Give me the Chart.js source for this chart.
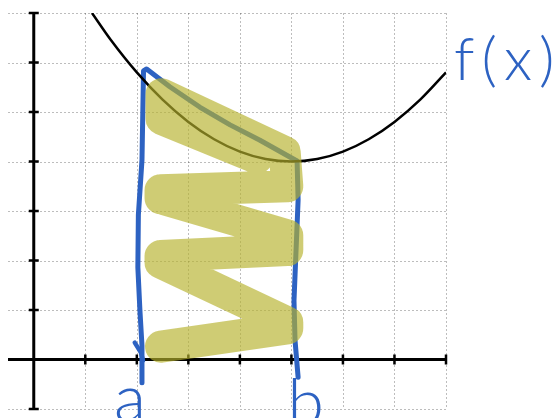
<!DOCTYPE html>
<html>
<head>
<meta charset="utf-8">
<script src="https://cdn.jsdelivr.net/npm/chart.js@4.4.1/dist/chart.umd.min.js"></script>
<style>
  html, body { margin: 0; padding: 0; background: #fff; }
  #wrap { width: 560px; height: 418px; }
</style>
</head>
<body>
<div id="wrap"><canvas id="riemann" width="560" height="418"></canvas></div>
<script>
// f(x) 곡선 (그림에서 읽은 점)
const curveX = [1.13, 1.5, 2, 2.5, 3, 3.5, 4, 4.5, 5, 5.5, 6, 6.5, 7, 7.5, 8];
const curveY = [7.0, 6.45, 5.8, 5.25, 4.8, 4.45, 4.2, 4.05, 4.0, 4.05, 4.2, 4.45, 4.8, 5.25, 5.8];

// a~b 구간을 둘러싼 손그림 테두리
const outlineX = [2.10, 2.10, 2.06, 2.02, 2.03, 2.10, 2.13, 2.19, 2.64, 3.22, 3.81, 4.39, 4.97, 5.11, 5.13, 5.09, 5.05, 5.07, 5.13];
const outlineY = [-0.47, 0.28, 0.99, 1.86, 2.92, 4.03, 5.83, 5.87, 5.51, 5.10, 4.74, 4.43, 4.09, 4.01, 3.22, 2.21, 1.19, 0.39, -0.36];

// 왼쪽 아래 작은 꺾임
const hookX = [1.96, 2.08, 2.12];
const hookY = [0.34, 0.14, -0.02];

// 노란 지그재그 칠
const shadeX = [4.33, 2.48, 2.48, 4.87, 4.92, 2.46, 2.46, 4.92, 4.92, 2.46, 2.46, 4.92, 4.92, 2.47];
const shadeY = [4.07, 4.86, 5.36, 4.19, 3.50, 3.42, 3.26, 2.51, 2.21, 2.09, 1.96, 0.75, 0.63, 0.26];

// 격자, 눈금
const gridX = [0, 1, 2, 3, 4, 5, 6, 7, 8];
const gridY = [-1, 0, 1, 2, 3, 4, 5, 6, 7];
const tickX = [1, 2, 3, 4, 5, 6, 7, 8];
const tickY = [-1, 1, 2, 3, 4, 5, 6, 7];

// 구간 끝점과 글자
const aX = 2.1;
const bX = 5.1;
const labelA = "a";
const labelB = "b";
const labelF = "f(x)";

const BLUE = "#2d62c2";

function pts(xs, ys) {
  return xs.map((x, i) => ({ x: x, y: ys[i] }));
}

// 격자와 축은 데이터보다 먼저 그림
const gridAxes = {
  id: "gridAxes",
  beforeDatasetsDraw(chart) {
    const ctx = chart.ctx;
    const xs = chart.scales.x;
    const ys = chart.scales.y;
    const area = chart.chartArea;
    ctx.save();
    ctx.strokeStyle = "rgba(0,0,0,0.26)";
    ctx.lineWidth = 1;
    ctx.setLineDash([2, 2]);
    gridX.forEach((v) => {
      const px = Math.round(xs.getPixelForValue(v)) + 0.5;
      ctx.beginPath();
      ctx.moveTo(px, area.top);
      ctx.lineTo(px, area.bottom);
      ctx.stroke();
    });
    gridY.forEach((v) => {
      const py = Math.round(ys.getPixelForValue(v)) + 0.5;
      ctx.beginPath();
      ctx.moveTo(area.left, py);
      ctx.lineTo(area.right, py);
      ctx.stroke();
    });
    ctx.setLineDash([]);

    // 축
    const x0 = xs.getPixelForValue(0);
    const y0 = ys.getPixelForValue(0);
    ctx.strokeStyle = "#000";
    ctx.lineWidth = 3;
    ctx.beginPath();
    ctx.moveTo(x0, ys.getPixelForValue(-1));
    ctx.lineTo(x0, ys.getPixelForValue(7));
    ctx.moveTo(xs.getPixelForValue(-0.5), y0);
    ctx.lineTo(xs.getPixelForValue(8), y0);
    ctx.stroke();

    // 눈금
    ctx.lineWidth = 2.5;
    ctx.beginPath();
    tickY.forEach((v) => {
      const py = ys.getPixelForValue(v);
      ctx.moveTo(x0 - 5, py);
      ctx.lineTo(x0 + 5, py);
    });
    tickX.forEach((v) => {
      const px = xs.getPixelForValue(v);
      ctx.moveTo(px, y0 - 5);
      ctx.lineTo(px, y0 + 5);
    });
    ctx.stroke();
    ctx.restore();
  },
  afterDraw(chart) {
    const ctx = chart.ctx;
    const xs = chart.scales.x;
    ctx.save();
    ctx.fillStyle = BLUE;
    ctx.textBaseline = "alphabetic";
    ctx.font = "300 66px Lato";
    ctx.textAlign = "center";
    ctx.fillText(labelA, xs.getPixelForValue(aX) - 12, 421);
    ctx.textAlign = "left";
    ctx.fillText(labelB, xs.getPixelForValue(bX) - 9, 425);
    ctx.font = "300 60px Lato";
    ctx.letterSpacing = "7px";
    ctx.fillText(labelF, 454, 80);
    ctx.restore();
  },
};

new Chart(document.getElementById("riemann").getContext("2d"), {
  type: "line",
  data: {
    datasets: [
      {
        // 노란 칠 (맨 위)
        data: pts(shadeX, shadeY),
        borderColor: "rgba(182,178,44,0.66)",
        borderWidth: 32,
        borderJoinStyle: "round",
        borderCapStyle: "round",
        pointRadius: 0,
        tension: 0,
      },
      {
        data: pts(curveX, curveY),
        borderColor: "#000",
        borderWidth: 2.5,
        pointRadius: 0,
        cubicInterpolationMode: "monotone",
      },
      {
        data: pts(outlineX, outlineY),
        borderColor: BLUE,
        borderWidth: 5,
        borderJoinStyle: "round",
        borderCapStyle: "round",
        pointRadius: 0,
        tension: 0,
      },
      {
        data: pts(hookX, hookY),
        borderColor: BLUE,
        borderWidth: 4.5,
        borderCapStyle: "round",
        borderJoinStyle: "round",
        pointRadius: 0,
        tension: 0,
      },
    ],
  },
  options: {
    responsive: false,
    animation: false,
    layout: { padding: { left: 8, right: 114, top: 13, bottom: 9 } },
    plugins: { legend: { display: false }, tooltip: { enabled: false } },
    scales: {
      x: { type: "linear", min: -0.5, max: 8, display: false },
      y: { type: "linear", min: -1, max: 7, display: false },
    },
  },
  plugins: [gridAxes],
});
</script>
</body>
</html>
